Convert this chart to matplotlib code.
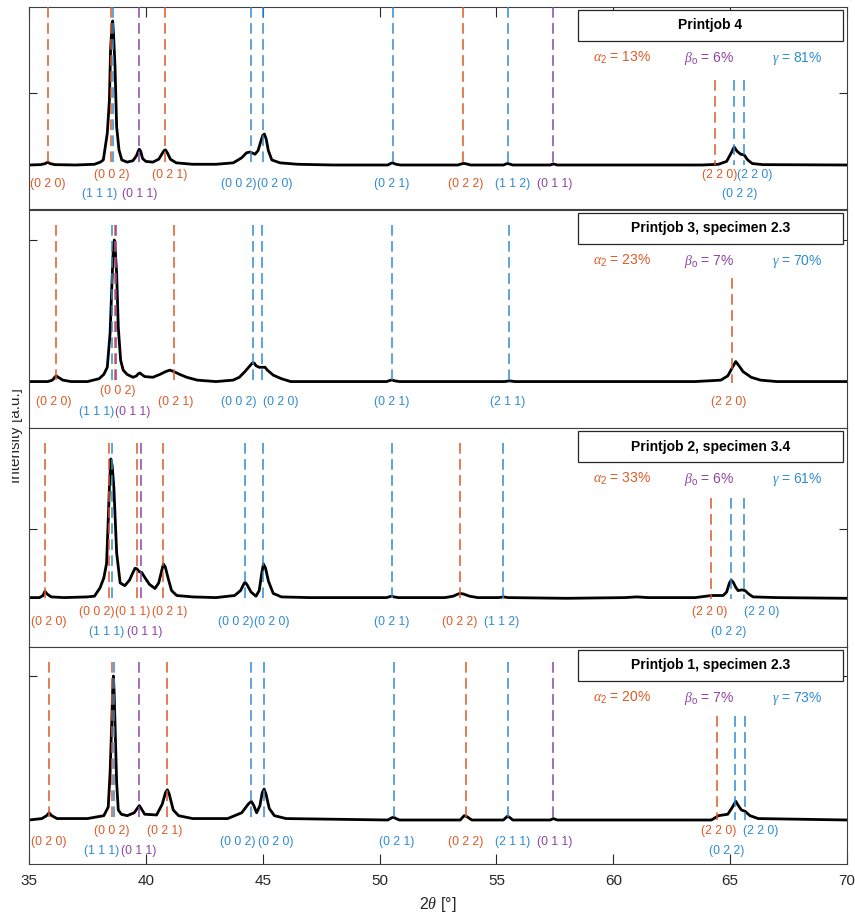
import matplotlib

matplotlib.use("Agg")
import matplotlib.pyplot as plt
from matplotlib.patches import Rectangle
from matplotlib.transforms import Bbox, TransformedBbox

plt.rcParams["font.family"] = ["Liberation Sans", "DejaVu Sans"]
plt.rcParams["mathtext.fontset"] = "custom"
plt.rcParams["mathtext.rm"] = "Liberation Sans"
plt.rcParams["mathtext.it"] = "Liberation Serif:italic"

PHASE_COLORS = {"a": "#DD5A26", "b": "#8E44A4", "g": "#2E8BD2"}

titles = [
    "Printjob 4",
    "Printjob 3, specimen 2.3",
    "Printjob 2, specimen 3.4",
    "Printjob 1, specimen 2.3",
]
alpha2_pct = [13, 23, 33, 20]
beta_pct = [6, 7, 6, 7]
gamma_pct = [81, 70, 61, 73]

# measured patterns, 2theta [deg] / intensity (panel units)
pj4_x = [35.0, 35.5, 35.7, 35.8, 35.9, 36.1, 37.0, 37.8, 38.05, 38.18, 38.35, 38.44,
         38.49, 38.55, 38.58, 38.62, 38.68, 38.75, 38.85, 38.97, 39.2, 39.45, 39.6, 39.67,
         39.72, 39.78, 39.86, 40.0, 40.3, 40.55, 40.7, 40.78, 40.84, 40.92, 41.05, 41.3,
         42.0, 43.0, 43.74, 44.1, 44.31, 44.46, 44.67, 44.8, 44.92, 45.0, 45.07, 45.15,
         45.24, 45.39, 45.74, 46.5, 48.0, 50.35, 50.5, 50.56, 50.7, 50.9, 53.35, 53.55,
         53.65, 53.9, 55.3, 55.45, 55.55, 55.7, 57.3, 57.44, 57.6, 63.8, 64.5, 64.85,
         65.05, 65.17, 65.3, 65.45, 65.6, 65.75, 65.95, 66.4, 70.0]
pj4_y = [0.0, 0.005, 0.02, 0.04, 0.02, 0.005, 0.0, 0.01, 0.04, 0.07, 0.44, 0.9,
         1.6, 1.95, 2.0, 1.8, 1.37, 0.53, 0.21, 0.07, 0.04, 0.06, 0.13, 0.19,
         0.22, 0.19, 0.09, 0.05, 0.04, 0.08, 0.16, 0.2, 0.21, 0.17, 0.08, 0.03,
         0.01, 0.01, 0.03, 0.1, 0.17, 0.18, 0.15, 0.2, 0.33, 0.41, 0.43, 0.36,
         0.2, 0.07, 0.03, 0.01, 0.0, 0.0, 0.025, 0.03, 0.01, 0.0, 0.0, 0.02,
         0.02, 0.0, 0.0, 0.02, 0.015, 0.0, 0.0, 0.015, 0.0, 0.0, 0.01, 0.05,
         0.17, 0.25, 0.19, 0.15, 0.14, 0.07, 0.02, 0.005, 0.0]

pj3_x = [35.0, 35.8, 36.0, 36.1, 36.16, 36.25, 36.45, 36.8, 37.5, 38.0, 38.2, 38.35,
         38.47, 38.55, 38.61, 38.65, 38.69, 38.75, 38.82, 38.92, 39.03, 39.2, 39.45, 39.6,
         39.68, 39.75, 39.82, 39.95, 40.3, 40.6, 40.85, 41.03, 41.2, 41.45, 41.75, 42.2,
         43.0, 43.73, 44.0, 44.24, 44.45, 44.56, 44.63, 44.72, 44.85, 45.0, 45.1, 45.2,
         45.45, 45.8, 46.2, 47.5, 50.3, 50.48, 50.55, 50.65, 50.85, 52.5, 54.0, 55.35,
         55.55, 55.8, 58.0, 63.5, 64.6, 64.9, 65.1, 65.24, 65.38, 65.55, 65.9, 66.3,
         67.0, 70.0]
pj3_y = [0.01, 0.01, 0.02, 0.04, 0.05, 0.04, 0.02, 0.01, 0.01, 0.03, 0.06, 0.11,
         0.35, 0.70, 0.95, 1.0, 0.93, 0.77, 0.39, 0.16, 0.09, 0.06, 0.04, 0.05,
         0.065, 0.07, 0.06, 0.045, 0.04, 0.06, 0.08, 0.09, 0.08, 0.06, 0.04, 0.02,
         0.01, 0.02, 0.04, 0.08, 0.12, 0.14, 0.14, 0.12, 0.11, 0.11, 0.11, 0.09,
         0.055, 0.03, 0.01, 0.01, 0.01, 0.02, 0.02, 0.015, 0.01, 0.01, 0.01, 0.01,
         0.015, 0.01, 0.01, 0.01, 0.02, 0.05, 0.11, 0.15, 0.12, 0.08, 0.04, 0.02,
         0.01, 0.01]

pj2_x = [35.0, 35.45, 35.6, 35.68, 35.78, 35.95, 36.5, 37.5, 37.8, 38.04, 38.2, 38.32,
         38.39, 38.44, 38.5, 38.56, 38.63, 38.75, 38.9, 39.1, 39.3, 39.45, 39.54, 39.62,
         39.72, 39.82, 39.95, 40.15, 40.39, 40.55, 40.66, 40.75, 40.83, 40.95, 41.1, 41.32,
         42.0, 43.0, 43.8, 44.05, 44.17, 44.24, 44.32, 44.5, 44.71, 44.85, 44.95, 45.03,
         45.12, 45.25, 45.45, 45.8, 47.0, 50.3, 50.45, 50.52, 50.62, 50.8, 52.8, 53.15,
         53.35, 53.45, 53.6, 53.85, 54.2, 55.1, 55.3, 55.5, 58.0, 60.5, 61.0, 61.5,
         63.5, 64.2, 64.7, 64.85, 64.96, 65.04, 65.13, 65.25, 65.34, 65.5, 65.64, 65.8,
         65.98, 67.0, 70.0]
pj2_y = [0.02, 0.02, 0.05, 0.11, 0.07, 0.03, 0.02, 0.03, 0.04, 0.16, 0.3, 0.51,
         1.13, 1.6, 2.0, 1.9, 1.6, 0.66, 0.23, 0.19, 0.27, 0.38, 0.44, 0.43,
         0.39, 0.38, 0.31, 0.21, 0.15, 0.23, 0.38, 0.50, 0.46, 0.3, 0.12, 0.05,
         0.03, 0.02, 0.05, 0.12, 0.2, 0.24, 0.21, 0.1, 0.04, 0.12, 0.35, 0.50,
         0.44, 0.25, 0.08, 0.03, 0.02, 0.02, 0.035, 0.04, 0.03, 0.02, 0.02, 0.04,
         0.07, 0.08, 0.07, 0.04, 0.02, 0.02, 0.03, 0.02, 0.01, 0.02, 0.03, 0.02,
         0.02, 0.05, 0.05, 0.1, 0.22, 0.27, 0.24, 0.16, 0.12, 0.13, 0.12, 0.07,
         0.03, 0.02, 0.01]

pj1_x = [35.0, 35.55, 35.75, 35.86, 35.97, 36.2, 37.5, 38.2, 38.39, 38.47, 38.54, 38.58,
         38.61, 38.64, 38.68, 38.75, 38.82, 38.95, 39.2, 39.5, 39.63, 39.72, 39.8, 39.95,
         40.46, 40.7, 40.84, 40.92, 41.0, 41.17, 41.4, 42.0, 43.5, 44.1, 44.38, 44.51,
         44.62, 44.74, 44.88, 44.98, 45.06, 45.14, 45.28, 45.5, 46.0, 50.35, 50.52, 50.6,
         50.7, 50.85, 53.45, 53.62, 53.72, 53.95, 55.3, 55.46, 55.55, 55.7, 57.3, 57.44,
         57.6, 64.2, 64.5, 64.9, 65.1, 65.24, 65.35, 65.48, 65.64, 65.85, 66.2, 70.0]
pj1_y = [0.0, 0.01, 0.03, 0.05, 0.03, 0.01, 0.01, 0.03, 0.09, 0.33, 0.67, 0.9,
         1.0, 0.9, 0.67, 0.26, 0.07, 0.04, 0.03, 0.05, 0.08, 0.10, 0.08, 0.04,
         0.035, 0.11, 0.19, 0.21, 0.18, 0.07, 0.03, 0.01, 0.01, 0.05, 0.11, 0.13,
         0.1, 0.05, 0.1, 0.19, 0.215, 0.18, 0.08, 0.03, 0.01, 0.0, 0.015, 0.02,
         0.01, 0.0, 0.0, 0.03, 0.025, 0.0, 0.0, 0.025, 0.02, 0.0, 0.0, 0.01,
         0.0, 0.0, 0.03, 0.04, 0.09, 0.13, 0.1, 0.07, 0.06, 0.03, 0.01, 0.0]

# reflection markers: (2theta, phase)  a = alpha2, b = beta_o, g = gamma
pj4_lines = [(35.80, "a"), (38.49, "a"), (40.82, "a"), (53.58, "a"), (64.35, "a"),
             (39.72, "b"), (57.44, "b"),
             (38.61, "g"), (44.49, "g"), (45.03, "g"), (50.56, "g"), (55.48, "g"),
             (65.17, "g"), (65.60, "g")]
pj3_lines = [(36.16, "a"), (38.70, "a"), (41.20, "a"), (65.07, "a"),
             (38.72, "b"),
             (38.57, "g"), (44.57, "g"), (44.98, "g"), (50.55, "g"), (55.55, "g")]
pj2_lines = [(35.68, "a"), (38.42, "a"), (39.61, "a"), (40.72, "a"), (53.44, "a"), (64.18, "a"),
             (39.79, "b"),
             (38.54, "g"), (44.24, "g"), (45.03, "g"), (50.52, "g"), (55.30, "g"),
             (65.02, "g"), (65.60, "g")]
pj1_lines = [(35.86, "a"), (38.57, "a"), (40.89, "a"), (53.69, "a"), (64.42, "a"),
             (39.72, "b"), (57.44, "b"),
             (38.62, "g"), (44.51, "g"), (45.06, "g"), (50.60, "g"), (55.51, "g"),
             (65.21, "g"), (65.64, "g")]

# Miller index labels: (text, 2theta, phase, row)
pj4_labels = [("(0 2 0)", 35.81, "a", 1), ("(0 0 2)", 38.55, "a", 0), ("(0 2 1)", 41.03, "a", 0),
              ("(1 1 1)", 38.04, "g", 2), ("(0 1 1)", 39.73, "b", 2), ("(0 0 2)", 43.99, "g", 1),
              ("(0 2 0)", 45.53, "g", 1), ("(0 2 1)", 50.53, "g", 1), ("(0 2 2)", 53.69, "a", 1),
              ("(1 1 2)", 55.71, "g", 1), ("(0 1 1)", 57.49, "b", 1), ("(2 2 0)", 64.55, "a", 0),
              ("(2 2 0)", 66.07, "g", 0), ("(0 2 2)", 65.41, "g", 2)]
pj3_labels = [("(0 2 0)", 36.08, "a", 1), ("(0 0 2)", 38.79, "a", 0), ("(1 1 1)", 37.91, "g", 2),
              ("(0 1 1)", 39.45, "b", 2), ("(0 2 1)", 41.27, "a", 1), ("(0 0 2)", 43.96, "g", 1),
              ("(0 2 0)", 45.77, "g", 1), ("(0 2 1)", 50.53, "g", 1), ("(2 1 1)", 55.50, "g", 1),
              ("(2 2 0)", 64.95, "a", 1)]
pj2_labels = [("(0 2 0)", 35.86, "a", 1), ("(0 0 2)", 37.91, "a", 0), ("(0 1 1)", 39.45, "a", 0),
              ("(0 2 1)", 41.00, "a", 0), ("(1 1 1)", 38.34, "g", 2), ("(0 1 1)", 39.94, "b", 2),
              ("(0 0 2)", 43.86, "g", 1), ("(0 2 0)", 45.40, "g", 1), ("(0 2 1)", 50.52, "g", 1),
              ("(0 2 2)", 53.43, "a", 1), ("(1 1 2)", 55.24, "g", 1), ("(2 2 0)", 64.14, "a", 0),
              ("(2 2 0)", 66.36, "g", 0), ("(0 2 2)", 64.95, "g", 2)]
pj1_labels = [("(0 2 0)", 35.86, "a", 1), ("(0 0 2)", 38.54, "a", 0), ("(0 2 1)", 40.82, "a", 0),
              ("(1 1 1)", 38.10, "g", 2), ("(0 1 1)", 39.71, "b", 2), ("(0 0 2)", 43.94, "g", 1),
              ("(0 2 0)", 45.55, "g", 1), ("(0 2 1)", 50.73, "g", 1), ("(0 2 2)", 53.68, "a", 1),
              ("(2 1 1)", 55.70, "g", 1), ("(0 1 1)", 57.51, "b", 1), ("(2 2 0)", 64.52, "a", 0),
              ("(2 2 0)", 66.32, "g", 0), ("(0 2 2)", 64.84, "g", 2)]

panels = [
    (pj4_x, pj4_y, pj4_lines, pj4_labels),
    (pj3_x, pj3_y, pj3_lines, pj3_labels),
    (pj2_x, pj2_y, pj2_lines, pj2_labels),
    (pj1_x, pj1_y, pj1_lines, pj1_labels),
]

# layout in pixels
W, H = 855, 917
left_px, right_px = 29, 847
panel_px = [(7, 209), (210, 428), (428, 647), (647, 864)]
baseline_px = [165, 383, 599, 820]
unit_px = [72, 143, 70, 144]
row_px = [(10, 19, 29), (8, 19, 29), (13, 23, 33), (11, 22, 31)]
line_top_px = [0, 15, 15, 15]
right_top_px = [73, 68, 70, 69]

fig = plt.figure(figsize=(W / 100, H / 100), dpi=100)
axw = right_px - left_px

for i, (xs, ys, lines, labels) in enumerate(panels):
    top, bot = panel_px[i]
    h = bot - top
    unit = unit_px[i]
    ax = fig.add_axes([left_px / W, 1 - bot / H, axw / W, h / H])
    ylo = -(bot - baseline_px[i]) / unit
    yhi = (baseline_px[i] - top) / unit
    ax.set_xlim(35, 70)
    ax.set_ylim(ylo, yhi)

    ax.plot(xs, ys, color="black", lw=2.0, zorder=2,
            solid_joinstyle="round", solid_capstyle="round")

    for xv, ph in lines:
        off = right_top_px[i] if xv > 63 else line_top_px[i]
        ytop = yhi - off / unit
        ax.plot([xv, xv], [ytop, 0], color=PHASE_COLORS[ph], lw=1.1,
                ls=(0, (7, 3.5)), zorder=3)

    for text, xv, ph, row in labels:
        ax.annotate(text, xy=(xv, 0), xytext=(0, -row_px[i][row] * 0.72),
                    textcoords="offset points", ha="center", va="center",
                    color=PHASE_COLORS[ph], fontsize=8.7, annotation_clip=False)

    bx0 = (578 - left_px) / axw
    bx1 = (843 - left_px) / axw
    ax.add_patch(Rectangle((bx0, 1 - 34 / h), bx1 - bx0, 31 / h, transform=ax.transAxes,
                           facecolor="white", edgecolor="#262626", lw=0.9, zorder=5))
    ax.text((bx0 + bx1) / 2, 1 - 18.5 / h, titles[i], transform=ax.transAxes,
            ha="center", va="center", fontsize=10, fontweight="bold", zorder=6)

    ty = 1 - 55 / h
    ax.text(0.725, ty, r"$\alpha_2$ = %d%%" % alpha2_pct[i], transform=ax.transAxes,
            ha="center", va="baseline", fontsize=10, color=PHASE_COLORS["a"])
    ax.text(0.831, ty, r"$\beta_\mathrm{o}$ = %d%%" % beta_pct[i], transform=ax.transAxes,
            ha="center", va="baseline", fontsize=10, color=PHASE_COLORS["b"])
    ax.text(0.939, ty, r"$\gamma$ = %d%%" % gamma_pct[i], transform=ax.transAxes,
            ha="center", va="baseline", fontsize=10, color=PHASE_COLORS["g"])

    ax.set_yticks([1])
    ax.tick_params(axis="y", direction="in", length=6, width=0.8, left=True, right=True,
                   labelleft=False, color="#262626")
    ax.set_xticks(range(35, 71, 5))
    if i == 0:
        ax.tick_params(axis="x", direction="in", length=7, width=0.8, top=True, bottom=False,
                       labelbottom=False, color="#262626")
    elif i == len(panels) - 1:
        ax.tick_params(axis="x", direction="in", length=7, width=0.8, top=False, bottom=True,
                       labelsize=11, labelcolor="#262626", pad=7, color="#262626")
    else:
        ax.tick_params(axis="x", length=0, labelbottom=False)
    for sp in ax.spines.values():
        sp.set_color("#404040")
        sp.set_linewidth(0.8)

fig.text((left_px + right_px) / 2 / W, 1 - 905 / H, r"2$\theta$ [°]",
         ha="center", va="center", fontsize=11.5, color="#262626")
ylab = fig.text(16 / W, 1 - 436 / H, "Intensity [a.u.]", rotation=90,
                ha="center", va="center", fontsize=11, color="#262626")
ylab.set_clip_box(TransformedBbox(Bbox.from_extents(12 / W, 0, 1, 1), fig.transFigure))
ylab.set_clip_on(True)

fig.savefig("out.png", dpi=100)
plt.close(fig)
